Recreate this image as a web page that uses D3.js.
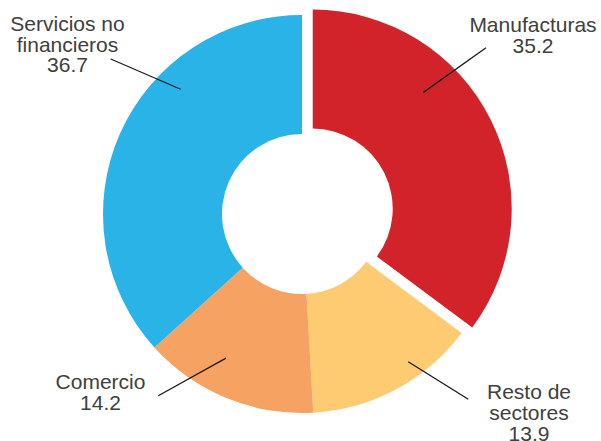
<!DOCTYPE html>
<html>
<head>
<meta charset="utf-8">
<script src="https://cdn.jsdelivr.net/npm/d3@7"></script>
<style>
  html, body { margin: 0; padding: 0; background: #fff; }
  svg { display: block; }
  text { font-family: "Liberation Sans", Arial, sans-serif; fill: #404040; }
</style>
</head>
<body>
<svg id="chart" width="601" height="441"></svg>
<script>
// ---- data ----
const categories = ["Manufacturas", "Resto de sectores", "Comercio", "Servicios no financieros"];
const values = [35.2, 13.9, 14.2, 36.7];
const valueLabels = ["35.2", "13.9", "14.2", "36.7"];
const labelLines = [["Manufacturas"], ["Resto de", "sectores"], ["Comercio"], ["Servicios no", "financieros"]];
const colors = ["#D2232A", "#FECB73", "#F6A263", "#29B3E7"];
const exploded = [true, false, false, false];

// ---- layout ----
const W = 601, H = 441;
const cx = 302, cy = 214;
const outerR = 199, innerR = 80;
const explodeDist = 12;
const fontSize = 21, lineH = 20.7;

// label layout (annotation placement): text anchor point, leader polar target
const labelLayout = [
  { tx: 533, ty: 32.3, lx: 486, ly: 47.7, ang: 43.6, r: 160.5 },
  { tx: 529, ty: 399.3, lx: 468.3, ly: 399.3, ang: 144.3, r: 182 },
  { tx: 100.5, ty: 389, lx: 158.3, ly: 395.7, ang: 207.8, r: 163 },
  { tx: 67.5, ty: 31, lx: 110.7, ly: 59, ang: 315.8, r: 174 }
];

const svg = d3.select("#chart");
const data = categories.map((c, i) => ({ cat: c, value: values[i], i }));

const pie = d3.pie().value(d => d.value).sort(null);
const arcs = pie(data);
const arc = d3.arc().innerRadius(innerR).outerRadius(outerR);

function offsetOf(a) {
  if (!exploded[a.data.i]) return [0, 0];
  const mid = (a.startAngle + a.endAngle) / 2;
  return [Math.sin(mid) * explodeDist, -Math.cos(mid) * explodeDist];
}

const g = svg.append("g").attr("transform", `translate(${cx},${cy})`);
g.selectAll("path.slice")
  .data(arcs)
  .join("path")
  .attr("class", "slice")
  .attr("d", arc)
  .attr("fill", d => colors[d.data.i])
  .attr("transform", d => { const o = offsetOf(d); return `translate(${o[0]},${o[1]})`; });

// leader lines
const lines = svg.append("g");
arcs.forEach(a => {
  const i = a.data.i, L = labelLayout[i];
  const o = offsetOf(a);
  const rad = L.ang * Math.PI / 180;
  const px = cx + o[0] + Math.sin(rad) * L.r;
  const py = cy + o[1] - Math.cos(rad) * L.r;
  lines.append("line")
    .attr("x1", L.lx).attr("y1", L.ly)
    .attr("x2", px).attr("y2", py)
    .attr("stroke", "#1a1a1a").attr("stroke-width", 1.3);
});

// labels
const labels = svg.append("g");
arcs.forEach(a => {
  const i = a.data.i, L = labelLayout[i];
  const allLines = labelLines[i].concat([valueLabels[i]]);
  const t = labels.append("text")
    .attr("text-anchor", "middle")
    .attr("font-size", fontSize);
  allLines.forEach((s, k) => {
    t.append("tspan").attr("x", L.tx).attr("y", L.ty + k * lineH).text(s);
  });
});
</script>
</body>
</html>
